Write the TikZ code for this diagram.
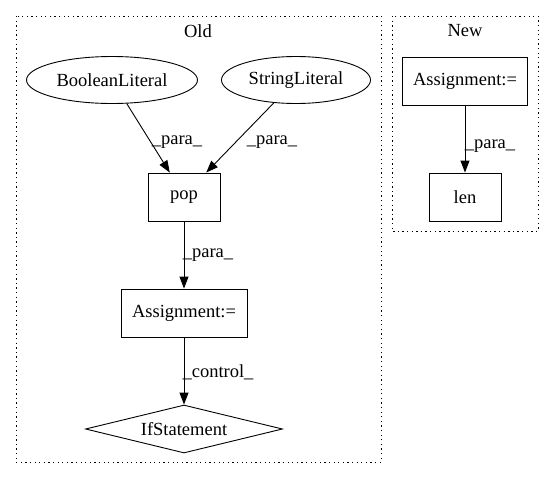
\documentclass[tikz,border=0pt]{standalone}
\usepackage{fontspec}
\setmainfont{Liberation Serif}
\usetikzlibrary{shapes.geometric,arrows.meta,calc}
\begin{document}
\begin{tikzpicture}[x=1pt,y=-1pt,
  every node/.style={font=\fontsize{18.5}{20}\selectfont},
  cluster/.style={draw,line width=0.9pt,dash pattern=on 1.3pt off 3.3pt},
  box/.style={draw,line width=0.9pt,rectangle,inner sep=0pt},
  oval/.style={draw,line width=0.9pt,ellipse,inner sep=0pt,minimum height=47pt},
  cond/.style={draw,line width=0.9pt,diamond,aspect=4,inner sep=0pt,minimum width=197pt,minimum height=48pt},
  edge/.style={line width=0.9pt,-{Triangle[length=12pt,width=9pt]}},
  elabel/.style={inner sep=0pt}]
\useasboundingbox (0,0) rectangle (555,480);
% clusters
\draw[cluster] (16,16) rectangle (381,462);
\draw[cluster] (392,16) rectangle (538,231);
\node (oldlbl) at (198,31) {Old};
\node (newlbl) at (465,31) {New};
% Old graph
\node[oval,minimum width=171pt] (bool) at (112,80) {BooleanLiteral};
\node[oval,minimum width=149pt] (str) at (296,80) {StringLiteral};
\node[box,minimum width=72pt,minimum height=48pt] (pop) at (184,197) {pop};
\node[box,minimum width=126pt,minimum height=48pt] (asgold) at (184,313) {Assignment:=};
\node[cond] (ifst) at (184,429) {IfStatement};
% New graph
\node[box,minimum width=125pt,minimum height=48pt] (asgnew) at (465,81) {Assignment:=};
\node[box,minimum width=72pt,minimum height=48pt] (len) at (465,197) {len};
% connectors
\coordinate (popinL) at ($(pop.north west)!0.305!(pop.north east)$);
\coordinate (popinR) at ($(pop.north west)!0.805!(pop.north east)$);
\draw[edge] (bool) -- (popinL);
\draw[edge] (str) -- (popinR);
\draw[edge] (pop) -- (asgold);
\draw[edge] (asgold) -- (ifst.north);
\draw[edge] (asgnew) -- (len);
% connector labels
\node[elabel] (l1) at (177,142) {\_para\_};
\node[elabel] (l2) at (272,142) {\_para\_};
\node[elabel] (l3) at (208,255) {\_para\_};
\node[elabel] (l4) at (218,372) {\_control\_};
\node[elabel] (l5) at (490,146) {\_para\_};
\end{tikzpicture}
\end{document}
